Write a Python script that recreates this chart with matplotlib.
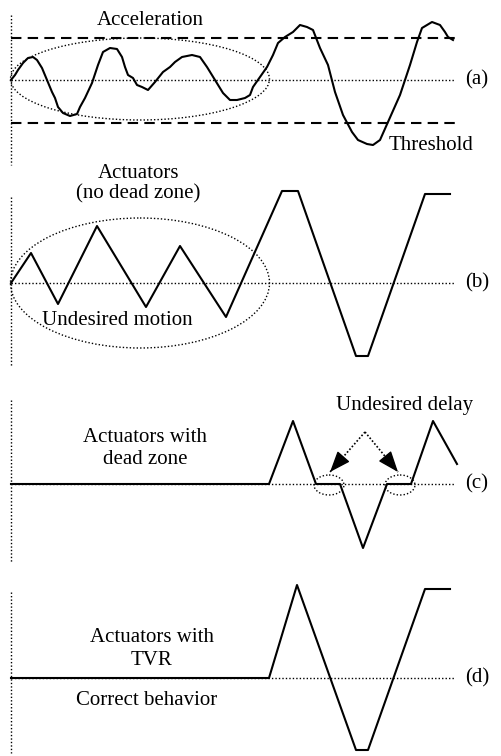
import matplotlib.pyplot as plt
from matplotlib.patches import Ellipse

# All coordinates are in picture pixels (x right, y down)

# (a) acceleration signal
acc_x = [11, 15, 18, 23, 28, 33, 37, 42, 47, 52, 55, 58, 63, 70, 77, 80, 85, 92, 98,
         103, 110, 117, 122, 125, 128, 133, 137, 142, 148, 155, 163, 170, 175, 182,
         192, 200, 207, 215, 223, 230, 237, 245, 250, 253, 260, 267, 273, 278, 285,
         293, 300, 307, 313, 320, 328, 335, 343, 352, 358, 367, 373, 380, 388, 400,
         410, 417, 422, 432, 440, 445, 448, 453]
acc_y = [80, 75, 70, 63, 58, 57, 60, 68, 80, 92, 98, 107, 113, 116, 114, 107, 98, 83, 65,
         52, 48, 49, 57, 67, 75, 78, 85, 87, 90, 82, 72, 67, 62, 57,
         55, 57, 67, 80, 93, 100, 100, 98, 95, 87, 77, 67, 55, 43, 37,
         32, 25, 27, 30, 48, 65, 92, 115, 132, 140, 144, 145, 140, 122, 95,
         65, 42, 28, 22, 25, 32, 37, 40]

# (b) actuators without dead zone
act_b_x = [11, 31, 58, 97, 146, 180, 226, 282, 298, 356, 368, 425, 450]
act_b_y = [283, 253, 304, 226, 307, 246, 317, 191, 191, 356, 356, 194, 194]

# (c) actuators with dead zone
act_c_x = [11, 269, 293, 316, 340, 363, 387, 411, 433, 457]
act_c_y = [484, 484, 421, 484, 484, 548, 484, 484, 421, 464]

# (d) actuators with TVR
act_d_x = [11, 269, 297, 356, 368, 425, 450]
act_d_y = [678, 678, 585, 750, 750, 589, 589]

zero_lines = [80, 283, 484, 678]
panel_tags = ['(a)', '(b)', '(c)', '(d)']
axis_spans = [(15, 165), (197, 367), (400, 563), (592, 753)]
thresholds = [38, 123]

# "undesired delay" arrows: common start, two tips
arrow_start = (365, 432)
arrow_tips = [(330, 472), (398, 472)]

plt.rcParams['font.family'] = ['Liberation Serif', 'DejaVu Serif']

fig = plt.figure(figsize=(5.01, 7.56), dpi=100)
ax = fig.add_axes([0, 0, 1, 1])
ax.set_xlim(0, 501)
ax.set_ylim(756, 0)
ax.axis('off')

dots = (0, (1, 1.5))
fs = 15

# vertical axes, zero lines and panel tags
for (y0, y1), yz, tag in zip(axis_spans, zero_lines, panel_tags):
    ax.plot([11, 11], [y0, y1], color='k', lw=1.0, ls=dots)
    ax.plot([11, 455], [yz, yz], color='k', lw=1.0, ls=dots)
    ax.text(465, yz, tag, fontsize=fs, ha='left', va='center')

# threshold lines
for yt in thresholds:
    ax.plot([11, 455], [yt, yt], color='k', lw=1.5, ls=(0, (5, 3)))

# signals
ax.plot(acc_x, acc_y, color='k', lw=1.5)
ax.plot(act_b_x, act_b_y, color='k', lw=1.5)
ax.plot(act_c_x, act_c_y, color='k', lw=1.5)
ax.plot(act_d_x, act_d_y, color='k', lw=1.5)

# ellipses
ax.add_patch(Ellipse((140, 79), 259, 82, fill=False, ls=dots, lw=1.0, ec='k'))
ax.add_patch(Ellipse((140, 283), 259, 130, fill=False, ls=dots, lw=1.0, ec='k'))
ax.add_patch(Ellipse((329, 485), 30, 20, fill=False, ls=dots, lw=1.0, ec='k'))
ax.add_patch(Ellipse((400, 485), 30, 20, fill=False, ls=dots, lw=1.0, ec='k'))

# dotted shafts with solid heads
sx, sy = arrow_start
for tx, ty in arrow_tips:
    ax.plot([sx, tx], [sy, ty], color='k', lw=1.2, ls=(0, (1, 1.2)))
    d = ((sx - tx) ** 2 + (sy - ty) ** 2) ** 0.5
    bx, by = tx + (sx - tx) * 14 / d, ty + (sy - ty) * 14 / d
    ax.annotate('', xy=(tx, ty), xytext=(bx, by),
                arrowprops=dict(arrowstyle='-|>,head_length=1.3,head_width=0.5',
                                lw=1.0, color='k', shrinkA=0, shrinkB=0))

# labels (baseline positions)
labels = [
    ('Acceleration', 150, 25),
    ('Threshold', 431, 150),
    ('Actuators', 139, 178),
    ('(no dead zone)', 138, 198),
    ('Undesired motion', 117, 325),
    ('Actuators with', 145, 442),
    ('dead zone', 145, 464),
    ('Undesired delay', 405, 410),
    ('Actuators with', 152, 642),
    ('TVR', 152, 665),
    ('Correct behavior', 147, 705),
]
for txt, x, y in labels:
    ax.text(x, y, txt, fontsize=fs, ha='center', va='baseline')

fig.savefig('out.png', dpi=100)
